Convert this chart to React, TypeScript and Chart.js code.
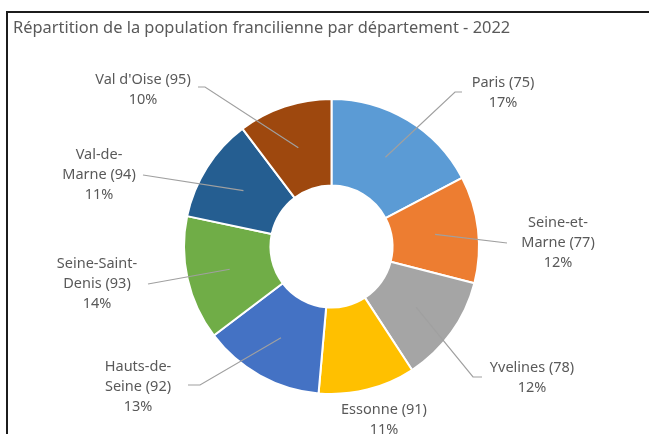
import React, { useEffect, useRef } from "react";
import { Chart, registerables } from "chart.js";

Chart.register(...registerables);

const TITLE = "Répartition de la population francilienne par département - 2022";
const DEPARTMENTS = [
  "Paris (75)",
  "Seine-et-Marne (77)",
  "Yvelines (78)",
  "Essonne (91)",
  "Hauts-de-Seine (92)",
  "Seine-Saint-Denis (93)",
  "Val-de-Marne (94)",
  "Val d'Oise (95)",
];
const LABEL_LINES = [
  ["Paris (75)"],
  ["Seine-et-", "Marne (77)"],
  ["Yvelines (78)"],
  ["Essonne (91)"],
  ["Hauts-de-", "Seine (92)"],
  ["Seine-Saint-", "Denis (93)"],
  ["Val-de-", "Marne (94)"],
  ["Val d'Oise (95)"],
];
// share of the regional population, in %
const SHARES = [17.3, 11.7, 11.8, 10.6, 13.3, 13.6, 11.4, 10.3];
const COLORS = ["#5B9BD5", "#ED7D31", "#A5A5A5", "#FFC000", "#4472C4", "#70AD47", "#255E91", "#9E480E"];

// label layout relative to doughnut centre (px): text block centre, leader path end points
const LABEL_LAYOUT = [
  { text: [171.5, -153.5], leader: [[123.5, -154.5], [130.5, -154.5]] },
  { text: [226.5, -3.5], leader: [[175.5, -3.5]] },
  { text: [200.5, 131.5], leader: [[141.5, 130.5], [150.5, 130.5]] },
  { text: [52.5, 173.5], leader: [] },
  { text: [-193.5, 140.5], leader: [[-131.5, 138.5], [-143.5, 138.5]] },
  { text: [-234.5, 37.5], leader: [[-183.5, 37.5]] },
  { text: [-232.5, -71.5], leader: [[-188.5, -71.5]] },
  { text: [-188.5, -156.5], leader: [[-126.5, -159.5], [-133.5, -159.5]] },
];

const FONT = '"Noto Sans", sans-serif';

const decorPlugin = {
  id: "decor",
  afterDraw(chart: any) {
    const ctx = chart.ctx;
    const meta = chart.getDatasetMeta(0);
    const data = chart.data.datasets[0].data as number[];
    const total = data.reduce((a, b) => a + b, 0);
    ctx.save();
    // frame
    ctx.fillStyle = "#1c1c1c";
    ctx.fillRect(6, 11, chart.width - 6, 2);
    ctx.fillRect(6, 11, 2, chart.height - 11);
    // title
    ctx.fillStyle = "#595959";
    ctx.font = `16.4px ${FONT}`;
    ctx.textBaseline = "middle";
    ctx.textAlign = "left";
    ctx.fillText(TITLE, 13, 28);
    // labels
    meta.data.forEach((arc: any, i: number) => {
      const p = arc.getProps(["x", "y", "startAngle", "endAngle", "innerRadius", "outerRadius"], true);
      const mid = (p.startAngle + p.endAngle) / 2;
      const r = (p.innerRadius + p.outerRadius) / 2;
      const lay = LABEL_LAYOUT[i];
      if (lay.leader.length) {
        ctx.strokeStyle = "#A0A0A0";
        ctx.lineWidth = 1.2;
        ctx.beginPath();
        ctx.moveTo(p.x + Math.cos(mid) * r, p.y + Math.sin(mid) * r);
        lay.leader.forEach((pt) => ctx.lineTo(p.x + pt[0], p.y + pt[1]));
        ctx.stroke();
      }
      const lines = [...LABEL_LINES[i], `${Math.round((data[i] / total) * 100)}%`];
      ctx.fillStyle = "#595959";
      ctx.font = `14.5px ${FONT}`;
      ctx.textAlign = "center";
      ctx.textBaseline = "middle";
      const cx = p.x + lay.text[0];
      const cy0 = p.y + lay.text[1] - ((lines.length - 1) * 20) / 2;
      lines.forEach((t, k) => ctx.fillText(t, cx, cy0 + k * 20));
    });
    ctx.restore();
  },
};

export default function App() {
  const ref = useRef<HTMLCanvasElement>(null);
  useEffect(() => {
    const chart = new Chart(ref.current!, {
      type: "doughnut",
      data: {
        labels: DEPARTMENTS,
        datasets: [
          {
            data: SHARES,
            backgroundColor: COLORS,
            borderColor: "#ffffff",
            borderWidth: 2,
          },
        ],
      },
      options: {
        animation: false,
        responsive: false,
        devicePixelRatio: 1,
        radius: 147.5,
        cutout: "41.4%",
        layout: { padding: { left: 184, right: 170, top: 99, bottom: 40 } },
        plugins: { legend: { display: false }, tooltip: { enabled: false }, title: { display: false } },
      },
      plugins: [decorPlugin],
    });
    return () => chart.destroy();
  }, []);
  return (
    <div style={{ position: "absolute", left: 0, top: 0, width: 649, height: 434, background: "#fff" }}>
      <canvas ref={ref} width={649} height={434} />
    </div>
  );
}
